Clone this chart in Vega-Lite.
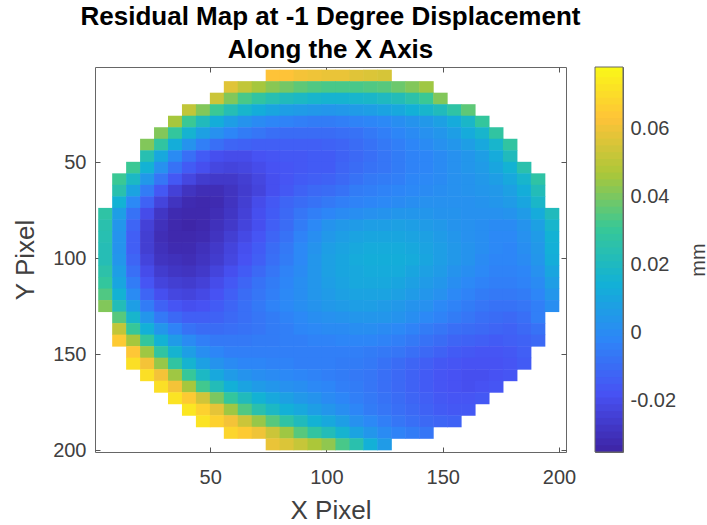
{"$schema":"https://vega.github.io/schema/vega-lite/v6.json","background":"white","padding":{"left":12,"top":3,"right":0,"bottom":0},"spacing":29,"bounds":"flush","config":{"view":{"stroke":"#666666","strokeWidth":1},"font":"Liberation Sans","axis":{"grid":false,"domain":false,"labelFont":"Liberation Sans","titleFont":"Liberation Sans","labelFontSize":20,"titleFontSize":26,"titleFontWeight":"normal","labelColor":"#404040","titleColor":"#404040","tickColor":"#555555"}},"hconcat":[{"width":471,"height":385,"title":{"text":["Residual Map at -1 Degree Displacement","Along the X Axis"],"font":"Liberation Sans","fontSize":26,"fontWeight":"bold","color":"black","lineHeight":33,"anchor":"middle","offset":3.5},"resolve":{"axis":{"x":"independent","y":"independent"}},"layer":[{"data":{"values":[
{"x":77,"y":5,"v":0.062},{"x":83,"y":5,"v":0.062},{"x":89,"y":5,"v":0.06},{"x":95,"y":5,"v":0.059},{"x":101,"y":5,"v":0.058},{"x":107,"y":5,"v":0.058},{"x":113,"y":5,"v":0.056},{"x":119,"y":5,"v":0.055},{"x":125,"y":5,"v":0.054},
{"x":59,"y":11,"v":0.056},{"x":65,"y":11,"v":0.05},{"x":71,"y":11,"v":0.045},{"x":77,"y":11,"v":0.041},{"x":83,"y":11,"v":0.038},{"x":89,"y":11,"v":0.035},{"x":95,"y":11,"v":0.033},{"x":101,"y":11,"v":0.032},{"x":107,"y":11,"v":0.032},{"x":113,"y":11,"v":0.032},{"x":119,"y":11,"v":0.033},{"x":125,"y":11,"v":0.034},{"x":131,"y":11,"v":0.037},{"x":137,"y":11,"v":0.04},{"x":143,"y":11,"v":0.044},
{"x":53,"y":17,"v":0.052},{"x":59,"y":17,"v":0.04},{"x":65,"y":17,"v":0.032},{"x":71,"y":17,"v":0.027},{"x":77,"y":17,"v":0.023},{"x":83,"y":17,"v":0.02},{"x":89,"y":17,"v":0.018},{"x":95,"y":17,"v":0.016},{"x":101,"y":17,"v":0.015},{"x":107,"y":17,"v":0.015},{"x":113,"y":17,"v":0.016},{"x":119,"y":17,"v":0.017},{"x":125,"y":17,"v":0.019},{"x":131,"y":17,"v":0.021},{"x":137,"y":17,"v":0.025},{"x":143,"y":17,"v":0.03},{"x":149,"y":17,"v":0.04},
{"x":41,"y":23,"v":0.05},{"x":47,"y":23,"v":0.04},{"x":53,"y":23,"v":0.03},{"x":59,"y":23,"v":0.022},{"x":65,"y":23,"v":0.016},{"x":71,"y":23,"v":0.012},{"x":77,"y":23,"v":0.009},{"x":83,"y":23,"v":0.006},{"x":89,"y":23,"v":0.005},{"x":95,"y":23,"v":0.004},{"x":101,"y":23,"v":0.003},{"x":107,"y":23,"v":0.004},{"x":113,"y":23,"v":0.005},{"x":119,"y":23,"v":0.006},{"x":125,"y":23,"v":0.008},{"x":131,"y":23,"v":0.01},{"x":137,"y":23,"v":0.013},{"x":143,"y":23,"v":0.016},{"x":149,"y":23,"v":0.02},{"x":155,"y":23,"v":0.026},{"x":161,"y":23,"v":0.035},
{"x":35,"y":29,"v":0.045},{"x":41,"y":29,"v":0.03},{"x":47,"y":29,"v":0.02},{"x":53,"y":29,"v":0.012},{"x":59,"y":29,"v":0.006},{"x":65,"y":29,"v":0.002},{"x":71,"y":29,"v":-0.001},{"x":77,"y":29,"v":-0.003},{"x":83,"y":29,"v":-0.004},{"x":89,"y":29,"v":-0.005},{"x":95,"y":29,"v":-0.006},{"x":101,"y":29,"v":-0.006},{"x":107,"y":29,"v":-0.005},{"x":113,"y":29,"v":-0.004},{"x":119,"y":29,"v":-0.003},{"x":125,"y":29,"v":-0.002},{"x":131,"y":29,"v":0},{"x":137,"y":29,"v":0.002},{"x":143,"y":29,"v":0.004},{"x":149,"y":29,"v":0.007},{"x":155,"y":29,"v":0.011},{"x":161,"y":29,"v":0.017},{"x":167,"y":29,"v":0.028},
{"x":29,"y":35,"v":0.04},{"x":35,"y":35,"v":0.028},{"x":41,"y":35,"v":0.015},{"x":47,"y":35,"v":0.007},{"x":53,"y":35,"v":0.001},{"x":59,"y":35,"v":-0.003},{"x":65,"y":35,"v":-0.006},{"x":71,"y":35,"v":-0.008},{"x":77,"y":35,"v":-0.01},{"x":83,"y":35,"v":-0.011},{"x":89,"y":35,"v":-0.011},{"x":95,"y":35,"v":-0.011},{"x":101,"y":35,"v":-0.011},{"x":107,"y":35,"v":-0.01},{"x":113,"y":35,"v":-0.009},{"x":119,"y":35,"v":-0.007},{"x":125,"y":35,"v":-0.005},{"x":131,"y":35,"v":-0.003},{"x":137,"y":35,"v":-0.001},{"x":143,"y":35,"v":0.001},{"x":149,"y":35,"v":0.003},{"x":155,"y":35,"v":0.006},{"x":161,"y":35,"v":0.011},{"x":167,"y":35,"v":0.016},{"x":173,"y":35,"v":0.027},
{"x":23,"y":41,"v":0.04},{"x":29,"y":41,"v":0.027},{"x":35,"y":41,"v":0.012},{"x":41,"y":41,"v":0.002},{"x":47,"y":41,"v":-0.005},{"x":53,"y":41,"v":-0.01},{"x":59,"y":41,"v":-0.013},{"x":65,"y":41,"v":-0.014},{"x":71,"y":41,"v":-0.015},{"x":77,"y":41,"v":-0.015},{"x":83,"y":41,"v":-0.015},{"x":89,"y":41,"v":-0.015},{"x":95,"y":41,"v":-0.015},{"x":101,"y":41,"v":-0.014},{"x":107,"y":41,"v":-0.013},{"x":113,"y":41,"v":-0.011},{"x":119,"y":41,"v":-0.009},{"x":125,"y":41,"v":-0.007},{"x":131,"y":41,"v":-0.005},{"x":137,"y":41,"v":-0.003},{"x":143,"y":41,"v":-0.001},{"x":149,"y":41,"v":0.001},{"x":155,"y":41,"v":0.003},{"x":161,"y":41,"v":0.006},{"x":167,"y":41,"v":0.01},{"x":173,"y":41,"v":0.016},{"x":179,"y":41,"v":0.027},
{"x":23,"y":47,"v":0.023},{"x":29,"y":47,"v":0.01},{"x":35,"y":47,"v":-0.001},{"x":41,"y":47,"v":-0.01},{"x":47,"y":47,"v":-0.016},{"x":53,"y":47,"v":-0.02},{"x":59,"y":47,"v":-0.021},{"x":65,"y":47,"v":-0.021},{"x":71,"y":47,"v":-0.019},{"x":77,"y":47,"v":-0.018},{"x":83,"y":47,"v":-0.017},{"x":89,"y":47,"v":-0.017},{"x":95,"y":47,"v":-0.016},{"x":101,"y":47,"v":-0.016},{"x":107,"y":47,"v":-0.014},{"x":113,"y":47,"v":-0.012},{"x":119,"y":47,"v":-0.01},{"x":125,"y":47,"v":-0.008},{"x":131,"y":47,"v":-0.006},{"x":137,"y":47,"v":-0.004},{"x":143,"y":47,"v":-0.003},{"x":149,"y":47,"v":-0.001},{"x":155,"y":47,"v":0.001},{"x":161,"y":47,"v":0.003},{"x":167,"y":47,"v":0.006},{"x":173,"y":47,"v":0.011},{"x":179,"y":47,"v":0.02},
{"x":17,"y":53,"v":0.03},{"x":23,"y":53,"v":0.014},{"x":29,"y":53,"v":0.001},{"x":35,"y":53,"v":-0.009},{"x":41,"y":53,"v":-0.016},{"x":47,"y":53,"v":-0.02},{"x":53,"y":53,"v":-0.023},{"x":59,"y":53,"v":-0.024},{"x":65,"y":53,"v":-0.023},{"x":71,"y":53,"v":-0.021},{"x":77,"y":53,"v":-0.019},{"x":83,"y":53,"v":-0.018},{"x":89,"y":53,"v":-0.017},{"x":95,"y":53,"v":-0.016},{"x":101,"y":53,"v":-0.016},{"x":107,"y":53,"v":-0.013},{"x":113,"y":53,"v":-0.011},{"x":119,"y":53,"v":-0.009},{"x":125,"y":53,"v":-0.008},{"x":131,"y":53,"v":-0.006},{"x":137,"y":53,"v":-0.004},{"x":143,"y":53,"v":-0.003},{"x":149,"y":53,"v":-0.001},{"x":155,"y":53,"v":0.001},{"x":161,"y":53,"v":0.003},{"x":167,"y":53,"v":0.005},{"x":173,"y":53,"v":0.009},{"x":179,"y":53,"v":0.014},{"x":185,"y":53,"v":0.024},
{"x":11,"y":59,"v":0.03},{"x":17,"y":59,"v":0.018},{"x":23,"y":59,"v":0.004},{"x":29,"y":59,"v":-0.008},{"x":35,"y":59,"v":-0.017},{"x":41,"y":59,"v":-0.023},{"x":47,"y":59,"v":-0.027},{"x":53,"y":59,"v":-0.028},{"x":59,"y":59,"v":-0.028},{"x":65,"y":59,"v":-0.026},{"x":71,"y":59,"v":-0.023},{"x":77,"y":59,"v":-0.02},{"x":83,"y":59,"v":-0.018},{"x":89,"y":59,"v":-0.016},{"x":95,"y":59,"v":-0.015},{"x":101,"y":59,"v":-0.014},{"x":107,"y":59,"v":-0.012},{"x":113,"y":59,"v":-0.009},{"x":119,"y":59,"v":-0.007},{"x":125,"y":59,"v":-0.006},{"x":131,"y":59,"v":-0.005},{"x":137,"y":59,"v":-0.003},{"x":143,"y":59,"v":-0.002},{"x":149,"y":59,"v":-0.001},{"x":155,"y":59,"v":0.001},{"x":161,"y":59,"v":0.002},{"x":167,"y":59,"v":0.004},{"x":173,"y":59,"v":0.006},{"x":179,"y":59,"v":0.01},{"x":185,"y":59,"v":0.016},{"x":191,"y":59,"v":0.026},
{"x":11,"y":65,"v":0.024},{"x":17,"y":65,"v":0.008},{"x":23,"y":65,"v":-0.006},{"x":29,"y":65,"v":-0.017},{"x":35,"y":65,"v":-0.025},{"x":41,"y":65,"v":-0.03},{"x":47,"y":65,"v":-0.032},{"x":53,"y":65,"v":-0.032},{"x":59,"y":65,"v":-0.03},{"x":65,"y":65,"v":-0.027},{"x":71,"y":65,"v":-0.024},{"x":77,"y":65,"v":-0.02},{"x":83,"y":65,"v":-0.017},{"x":89,"y":65,"v":-0.014},{"x":95,"y":65,"v":-0.012},{"x":101,"y":65,"v":-0.011},{"x":107,"y":65,"v":-0.009},{"x":113,"y":65,"v":-0.006},{"x":119,"y":65,"v":-0.005},{"x":125,"y":65,"v":-0.004},{"x":131,"y":65,"v":-0.003},{"x":137,"y":65,"v":-0.002},{"x":143,"y":65,"v":-0.001},{"x":149,"y":65,"v":0},{"x":155,"y":65,"v":0.001},{"x":161,"y":65,"v":0.002},{"x":167,"y":65,"v":0.003},{"x":173,"y":65,"v":0.004},{"x":179,"y":65,"v":0.007},{"x":185,"y":65,"v":0.012},{"x":191,"y":65,"v":0.021},
{"x":11,"y":71,"v":0.014},{"x":17,"y":71,"v":-0.002},{"x":23,"y":71,"v":-0.014},{"x":29,"y":71,"v":-0.024},{"x":35,"y":71,"v":-0.03},{"x":41,"y":71,"v":-0.033},{"x":47,"y":71,"v":-0.034},{"x":53,"y":71,"v":-0.033},{"x":59,"y":71,"v":-0.03},{"x":65,"y":71,"v":-0.026},{"x":71,"y":71,"v":-0.021},{"x":77,"y":71,"v":-0.017},{"x":83,"y":71,"v":-0.013},{"x":89,"y":71,"v":-0.011},{"x":95,"y":71,"v":-0.009},{"x":101,"y":71,"v":-0.007},{"x":107,"y":71,"v":-0.005},{"x":113,"y":71,"v":-0.004},{"x":119,"y":71,"v":-0.003},{"x":125,"y":71,"v":-0.002},{"x":131,"y":71,"v":-0.001},{"x":137,"y":71,"v":0},{"x":143,"y":71,"v":0.001},{"x":149,"y":71,"v":0.001},{"x":155,"y":71,"v":0.001},{"x":161,"y":71,"v":0.001},{"x":167,"y":71,"v":0.002},{"x":173,"y":71,"v":0.003},{"x":179,"y":71,"v":0.005},{"x":185,"y":71,"v":0.009},{"x":191,"y":71,"v":0.017},
{"x":5,"y":77,"v":0.026},{"x":11,"y":77,"v":0.006},{"x":17,"y":77,"v":-0.009},{"x":23,"y":77,"v":-0.021},{"x":29,"y":77,"v":-0.029},{"x":35,"y":77,"v":-0.033},{"x":41,"y":77,"v":-0.034},{"x":47,"y":77,"v":-0.034},{"x":53,"y":77,"v":-0.032},{"x":59,"y":77,"v":-0.029},{"x":65,"y":77,"v":-0.025},{"x":71,"y":77,"v":-0.02},{"x":77,"y":77,"v":-0.016},{"x":83,"y":77,"v":-0.012},{"x":89,"y":77,"v":-0.008},{"x":95,"y":77,"v":-0.005},{"x":101,"y":77,"v":-0.003},{"x":107,"y":77,"v":-0.001},{"x":113,"y":77,"v":0},{"x":119,"y":77,"v":0.001},{"x":125,"y":77,"v":0.002},{"x":131,"y":77,"v":0.003},{"x":137,"y":77,"v":0.003},{"x":143,"y":77,"v":0.003},{"x":149,"y":77,"v":0.002},{"x":155,"y":77,"v":0.002},{"x":161,"y":77,"v":0.001},{"x":167,"y":77,"v":0.001},{"x":173,"y":77,"v":0.001},{"x":179,"y":77,"v":0.002},{"x":185,"y":77,"v":0.005},{"x":191,"y":77,"v":0.011},{"x":197,"y":77,"v":0.02},
{"x":5,"y":83,"v":0.024},{"x":11,"y":83,"v":0.003},{"x":17,"y":83,"v":-0.013},{"x":23,"y":83,"v":-0.025},{"x":29,"y":83,"v":-0.031},{"x":35,"y":83,"v":-0.034},{"x":41,"y":83,"v":-0.035},{"x":47,"y":83,"v":-0.034},{"x":53,"y":83,"v":-0.031},{"x":59,"y":83,"v":-0.028},{"x":65,"y":83,"v":-0.024},{"x":71,"y":83,"v":-0.02},{"x":77,"y":83,"v":-0.015},{"x":83,"y":83,"v":-0.011},{"x":89,"y":83,"v":-0.006},{"x":95,"y":83,"v":-0.002},{"x":101,"y":83,"v":0.002},{"x":107,"y":83,"v":0.004},{"x":113,"y":83,"v":0.005},{"x":119,"y":83,"v":0.006},{"x":125,"y":83,"v":0.006},{"x":131,"y":83,"v":0.007},{"x":137,"y":83,"v":0.006},{"x":143,"y":83,"v":0.005},{"x":149,"y":83,"v":0.004},{"x":155,"y":83,"v":0.002},{"x":161,"y":83,"v":0.001},{"x":167,"y":83,"v":0},{"x":173,"y":83,"v":-0.001},{"x":179,"y":83,"v":-0.001},{"x":185,"y":83,"v":0.002},{"x":191,"y":83,"v":0.007},{"x":197,"y":83,"v":0.016},
{"x":5,"y":89,"v":0.023},{"x":11,"y":89,"v":0.002},{"x":17,"y":89,"v":-0.015},{"x":23,"y":89,"v":-0.026},{"x":29,"y":89,"v":-0.032},{"x":35,"y":89,"v":-0.034},{"x":41,"y":89,"v":-0.034},{"x":47,"y":89,"v":-0.033},{"x":53,"y":89,"v":-0.03},{"x":59,"y":89,"v":-0.026},{"x":65,"y":89,"v":-0.022},{"x":71,"y":89,"v":-0.018},{"x":77,"y":89,"v":-0.013},{"x":83,"y":89,"v":-0.009},{"x":89,"y":89,"v":-0.004},{"x":95,"y":89,"v":0},{"x":101,"y":89,"v":0.004},{"x":107,"y":89,"v":0.006},{"x":113,"y":89,"v":0.008},{"x":119,"y":89,"v":0.009},{"x":125,"y":89,"v":0.009},{"x":131,"y":89,"v":0.009},{"x":137,"y":89,"v":0.008},{"x":143,"y":89,"v":0.007},{"x":149,"y":89,"v":0.005},{"x":155,"y":89,"v":0.003},{"x":161,"y":89,"v":0.001},{"x":167,"y":89,"v":0},{"x":173,"y":89,"v":-0.002},{"x":179,"y":89,"v":-0.002},{"x":185,"y":89,"v":0.001},{"x":191,"y":89,"v":0.005},{"x":197,"y":89,"v":0.014},
{"x":5,"y":95,"v":0.022},{"x":11,"y":95,"v":0.002},{"x":17,"y":95,"v":-0.015},{"x":23,"y":95,"v":-0.026},{"x":29,"y":95,"v":-0.031},{"x":35,"y":95,"v":-0.033},{"x":41,"y":95,"v":-0.033},{"x":47,"y":95,"v":-0.031},{"x":53,"y":95,"v":-0.028},{"x":59,"y":95,"v":-0.024},{"x":65,"y":95,"v":-0.02},{"x":71,"y":95,"v":-0.016},{"x":77,"y":95,"v":-0.011},{"x":83,"y":95,"v":-0.007},{"x":89,"y":95,"v":-0.002},{"x":95,"y":95,"v":0.002},{"x":101,"y":95,"v":0.006},{"x":107,"y":95,"v":0.008},{"x":113,"y":95,"v":0.01},{"x":119,"y":95,"v":0.011},{"x":125,"y":95,"v":0.011},{"x":131,"y":95,"v":0.011},{"x":137,"y":95,"v":0.01},{"x":143,"y":95,"v":0.008},{"x":149,"y":95,"v":0.006},{"x":155,"y":95,"v":0.004},{"x":161,"y":95,"v":0.002},{"x":167,"y":95,"v":0},{"x":173,"y":95,"v":-0.002},{"x":179,"y":95,"v":-0.003},{"x":185,"y":95,"v":0},{"x":191,"y":95,"v":0.004},{"x":197,"y":95,"v":0.013},
{"x":5,"y":101,"v":0.022},{"x":11,"y":101,"v":0.003},{"x":17,"y":101,"v":-0.013},{"x":23,"y":101,"v":-0.024},{"x":29,"y":101,"v":-0.03},{"x":35,"y":101,"v":-0.031},{"x":41,"y":101,"v":-0.032},{"x":47,"y":101,"v":-0.03},{"x":53,"y":101,"v":-0.027},{"x":59,"y":101,"v":-0.023},{"x":65,"y":101,"v":-0.019},{"x":71,"y":101,"v":-0.015},{"x":77,"y":101,"v":-0.01},{"x":83,"y":101,"v":-0.006},{"x":89,"y":101,"v":-0.002},{"x":95,"y":101,"v":0.003},{"x":101,"y":101,"v":0.007},{"x":107,"y":101,"v":0.009},{"x":113,"y":101,"v":0.011},{"x":119,"y":101,"v":0.012},{"x":125,"y":101,"v":0.012},{"x":131,"y":101,"v":0.012},{"x":137,"y":101,"v":0.011},{"x":143,"y":101,"v":0.009},{"x":149,"y":101,"v":0.006},{"x":155,"y":101,"v":0.004},{"x":161,"y":101,"v":0.002},{"x":167,"y":101,"v":-0.001},{"x":173,"y":101,"v":-0.003},{"x":179,"y":101,"v":-0.003},{"x":185,"y":101,"v":-0.001},{"x":191,"y":101,"v":0.003},{"x":197,"y":101,"v":0.012},
{"x":5,"y":107,"v":0.025},{"x":11,"y":107,"v":0.006},{"x":17,"y":107,"v":-0.01},{"x":23,"y":107,"v":-0.021},{"x":29,"y":107,"v":-0.027},{"x":35,"y":107,"v":-0.029},{"x":41,"y":107,"v":-0.03},{"x":47,"y":107,"v":-0.028},{"x":53,"y":107,"v":-0.024},{"x":59,"y":107,"v":-0.02},{"x":65,"y":107,"v":-0.016},{"x":71,"y":107,"v":-0.012},{"x":77,"y":107,"v":-0.008},{"x":83,"y":107,"v":-0.004},{"x":89,"y":107,"v":-0.001},{"x":95,"y":107,"v":0.003},{"x":101,"y":107,"v":0.007},{"x":107,"y":107,"v":0.009},{"x":113,"y":107,"v":0.01},{"x":119,"y":107,"v":0.011},{"x":125,"y":107,"v":0.011},{"x":131,"y":107,"v":0.011},{"x":137,"y":107,"v":0.009},{"x":143,"y":107,"v":0.007},{"x":149,"y":107,"v":0.005},{"x":155,"y":107,"v":0.002},{"x":161,"y":107,"v":0},{"x":167,"y":107,"v":-0.002},{"x":173,"y":107,"v":-0.004},{"x":179,"y":107,"v":-0.004},{"x":185,"y":107,"v":-0.003},{"x":191,"y":107,"v":0.001},{"x":197,"y":107,"v":0.009},
{"x":5,"y":113,"v":0.028},{"x":11,"y":113,"v":0.009},{"x":17,"y":113,"v":-0.006},{"x":23,"y":113,"v":-0.018},{"x":29,"y":113,"v":-0.024},{"x":35,"y":113,"v":-0.026},{"x":41,"y":113,"v":-0.027},{"x":47,"y":113,"v":-0.025},{"x":53,"y":113,"v":-0.021},{"x":59,"y":113,"v":-0.017},{"x":65,"y":113,"v":-0.013},{"x":71,"y":113,"v":-0.009},{"x":77,"y":113,"v":-0.006},{"x":83,"y":113,"v":-0.003},{"x":89,"y":113,"v":0},{"x":95,"y":113,"v":0.003},{"x":101,"y":113,"v":0.006},{"x":107,"y":113,"v":0.008},{"x":113,"y":113,"v":0.01},{"x":119,"y":113,"v":0.01},{"x":125,"y":113,"v":0.01},{"x":131,"y":113,"v":0.009},{"x":137,"y":113,"v":0.007},{"x":143,"y":113,"v":0.005},{"x":149,"y":113,"v":0.003},{"x":155,"y":113,"v":0},{"x":161,"y":113,"v":-0.002},{"x":167,"y":113,"v":-0.004},{"x":173,"y":113,"v":-0.005},{"x":179,"y":113,"v":-0.005},{"x":185,"y":113,"v":-0.004},{"x":191,"y":113,"v":-0.001},{"x":197,"y":113,"v":0.006},
{"x":5,"y":119,"v":0.033},{"x":11,"y":119,"v":0.014},{"x":17,"y":119,"v":-0.001},{"x":23,"y":119,"v":-0.013},{"x":29,"y":119,"v":-0.02},{"x":35,"y":119,"v":-0.023},{"x":41,"y":119,"v":-0.024},{"x":47,"y":119,"v":-0.022},{"x":53,"y":119,"v":-0.019},{"x":59,"y":119,"v":-0.015},{"x":65,"y":119,"v":-0.011},{"x":71,"y":119,"v":-0.008},{"x":77,"y":119,"v":-0.005},{"x":83,"y":119,"v":-0.002},{"x":89,"y":119,"v":0},{"x":95,"y":119,"v":0.003},{"x":101,"y":119,"v":0.005},{"x":107,"y":119,"v":0.007},{"x":113,"y":119,"v":0.008},{"x":119,"y":119,"v":0.008},{"x":125,"y":119,"v":0.008},{"x":131,"y":119,"v":0.007},{"x":137,"y":119,"v":0.005},{"x":143,"y":119,"v":0.003},{"x":149,"y":119,"v":0.001},{"x":155,"y":119,"v":-0.002},{"x":161,"y":119,"v":-0.004},{"x":167,"y":119,"v":-0.006},{"x":173,"y":119,"v":-0.007},{"x":179,"y":119,"v":-0.007},{"x":185,"y":119,"v":-0.006},{"x":191,"y":119,"v":-0.003},{"x":197,"y":119,"v":0.003},
{"x":5,"y":125,"v":0.04},{"x":11,"y":125,"v":0.021},{"x":17,"y":125,"v":0.006},{"x":23,"y":125,"v":-0.006},{"x":29,"y":125,"v":-0.014},{"x":35,"y":125,"v":-0.018},{"x":41,"y":125,"v":-0.02},{"x":47,"y":125,"v":-0.019},{"x":53,"y":125,"v":-0.016},{"x":59,"y":125,"v":-0.013},{"x":65,"y":125,"v":-0.01},{"x":71,"y":125,"v":-0.007},{"x":77,"y":125,"v":-0.004},{"x":83,"y":125,"v":-0.002},{"x":89,"y":125,"v":0},{"x":95,"y":125,"v":0.002},{"x":101,"y":125,"v":0.004},{"x":107,"y":125,"v":0.005},{"x":113,"y":125,"v":0.006},{"x":119,"y":125,"v":0.006},{"x":125,"y":125,"v":0.005},{"x":131,"y":125,"v":0.004},{"x":137,"y":125,"v":0.002},{"x":143,"y":125,"v":0.001},{"x":149,"y":125,"v":-0.002},{"x":155,"y":125,"v":-0.004},{"x":161,"y":125,"v":-0.006},{"x":167,"y":125,"v":-0.008},{"x":173,"y":125,"v":-0.009},{"x":179,"y":125,"v":-0.009},{"x":185,"y":125,"v":-0.008},{"x":191,"y":125,"v":-0.005},{"x":197,"y":125,"v":0},
{"x":11,"y":131,"v":0.034},{"x":17,"y":131,"v":0.016},{"x":23,"y":131,"v":0.003},{"x":29,"y":131,"v":-0.007},{"x":35,"y":131,"v":-0.012},{"x":41,"y":131,"v":-0.015},{"x":47,"y":131,"v":-0.015},{"x":53,"y":131,"v":-0.014},{"x":59,"y":131,"v":-0.012},{"x":65,"y":131,"v":-0.01},{"x":71,"y":131,"v":-0.008},{"x":77,"y":131,"v":-0.006},{"x":83,"y":131,"v":-0.004},{"x":89,"y":131,"v":-0.002},{"x":95,"y":131,"v":0},{"x":101,"y":131,"v":0.001},{"x":107,"y":131,"v":0.002},{"x":113,"y":131,"v":0.003},{"x":119,"y":131,"v":0.003},{"x":125,"y":131,"v":0.003},{"x":131,"y":131,"v":0.002},{"x":137,"y":131,"v":0},{"x":143,"y":131,"v":-0.002},{"x":149,"y":131,"v":-0.004},{"x":155,"y":131,"v":-0.006},{"x":161,"y":131,"v":-0.008},{"x":167,"y":131,"v":-0.01},{"x":173,"y":131,"v":-0.011},{"x":179,"y":131,"v":-0.012},{"x":185,"y":131,"v":-0.01},{"x":191,"y":131,"v":-0.005},
{"x":11,"y":137,"v":0.05},{"x":17,"y":137,"v":0.029},{"x":23,"y":137,"v":0.013},{"x":29,"y":137,"v":0.003},{"x":35,"y":137,"v":-0.004},{"x":41,"y":137,"v":-0.009},{"x":47,"y":137,"v":-0.011},{"x":53,"y":137,"v":-0.011},{"x":59,"y":137,"v":-0.01},{"x":65,"y":137,"v":-0.009},{"x":71,"y":137,"v":-0.008},{"x":77,"y":137,"v":-0.006},{"x":83,"y":137,"v":-0.005},{"x":89,"y":137,"v":-0.003},{"x":95,"y":137,"v":-0.002},{"x":101,"y":137,"v":-0.001},{"x":107,"y":137,"v":-0.001},{"x":113,"y":137,"v":0},{"x":119,"y":137,"v":0},{"x":125,"y":137,"v":-0.001},{"x":131,"y":137,"v":-0.002},{"x":137,"y":137,"v":-0.004},{"x":143,"y":137,"v":-0.006},{"x":149,"y":137,"v":-0.008},{"x":155,"y":137,"v":-0.01},{"x":161,"y":137,"v":-0.011},{"x":167,"y":137,"v":-0.012},{"x":173,"y":137,"v":-0.013},{"x":179,"y":137,"v":-0.014},{"x":185,"y":137,"v":-0.012},{"x":191,"y":137,"v":-0.009},
{"x":11,"y":143,"v":0.064},{"x":17,"y":143,"v":0.045},{"x":23,"y":143,"v":0.028},{"x":29,"y":143,"v":0.014},{"x":35,"y":143,"v":0.005},{"x":41,"y":143,"v":-0.001},{"x":47,"y":143,"v":-0.005},{"x":53,"y":143,"v":-0.007},{"x":59,"y":143,"v":-0.007},{"x":65,"y":143,"v":-0.007},{"x":71,"y":143,"v":-0.006},{"x":77,"y":143,"v":-0.006},{"x":83,"y":143,"v":-0.005},{"x":89,"y":143,"v":-0.005},{"x":95,"y":143,"v":-0.004},{"x":101,"y":143,"v":-0.004},{"x":107,"y":143,"v":-0.003},{"x":113,"y":143,"v":-0.003},{"x":119,"y":143,"v":-0.003},{"x":125,"y":143,"v":-0.004},{"x":131,"y":143,"v":-0.005},{"x":137,"y":143,"v":-0.007},{"x":143,"y":143,"v":-0.009},{"x":149,"y":143,"v":-0.011},{"x":155,"y":143,"v":-0.013},{"x":161,"y":143,"v":-0.014},{"x":167,"y":143,"v":-0.015},{"x":173,"y":143,"v":-0.016},{"x":179,"y":143,"v":-0.015},{"x":185,"y":143,"v":-0.014},{"x":191,"y":143,"v":-0.012},
{"x":17,"y":149,"v":0.063},{"x":23,"y":149,"v":0.044},{"x":29,"y":149,"v":0.027},{"x":35,"y":149,"v":0.015},{"x":41,"y":149,"v":0.006},{"x":47,"y":149,"v":0},{"x":53,"y":149,"v":-0.003},{"x":59,"y":149,"v":-0.005},{"x":65,"y":149,"v":-0.005},{"x":71,"y":149,"v":-0.005},{"x":77,"y":149,"v":-0.005},{"x":83,"y":149,"v":-0.005},{"x":89,"y":149,"v":-0.005},{"x":95,"y":149,"v":-0.005},{"x":101,"y":149,"v":-0.005},{"x":107,"y":149,"v":-0.005},{"x":113,"y":149,"v":-0.005},{"x":119,"y":149,"v":-0.006},{"x":125,"y":149,"v":-0.007},{"x":131,"y":149,"v":-0.008},{"x":137,"y":149,"v":-0.01},{"x":143,"y":149,"v":-0.012},{"x":149,"y":149,"v":-0.014},{"x":155,"y":149,"v":-0.016},{"x":161,"y":149,"v":-0.017},{"x":167,"y":149,"v":-0.018},{"x":173,"y":149,"v":-0.018},{"x":179,"y":149,"v":-0.017},{"x":185,"y":149,"v":-0.015},
{"x":17,"y":155,"v":0.07},{"x":23,"y":155,"v":0.06},{"x":29,"y":155,"v":0.043},{"x":35,"y":155,"v":0.027},{"x":41,"y":155,"v":0.015},{"x":47,"y":155,"v":0.007},{"x":53,"y":155,"v":0.002},{"x":59,"y":155,"v":-0.001},{"x":65,"y":155,"v":-0.003},{"x":71,"y":155,"v":-0.003},{"x":77,"y":155,"v":-0.004},{"x":83,"y":155,"v":-0.004},{"x":89,"y":155,"v":-0.005},{"x":95,"y":155,"v":-0.005},{"x":101,"y":155,"v":-0.005},{"x":107,"y":155,"v":-0.006},{"x":113,"y":155,"v":-0.006},{"x":119,"y":155,"v":-0.007},{"x":125,"y":155,"v":-0.009},{"x":131,"y":155,"v":-0.011},{"x":137,"y":155,"v":-0.013},{"x":143,"y":155,"v":-0.015},{"x":149,"y":155,"v":-0.017},{"x":155,"y":155,"v":-0.018},{"x":161,"y":155,"v":-0.019},{"x":167,"y":155,"v":-0.019},{"x":173,"y":155,"v":-0.019},{"x":179,"y":155,"v":-0.018},{"x":185,"y":155,"v":-0.016},
{"x":23,"y":161,"v":0.07},{"x":29,"y":161,"v":0.06},{"x":35,"y":161,"v":0.044},{"x":41,"y":161,"v":0.029},{"x":47,"y":161,"v":0.018},{"x":53,"y":161,"v":0.01},{"x":59,"y":161,"v":0.005},{"x":65,"y":161,"v":0.002},{"x":71,"y":161,"v":0},{"x":77,"y":161,"v":-0.001},{"x":83,"y":161,"v":-0.002},{"x":89,"y":161,"v":-0.003},{"x":95,"y":161,"v":-0.004},{"x":101,"y":161,"v":-0.005},{"x":107,"y":161,"v":-0.006},{"x":113,"y":161,"v":-0.007},{"x":119,"y":161,"v":-0.008},{"x":125,"y":161,"v":-0.01},{"x":131,"y":161,"v":-0.012},{"x":137,"y":161,"v":-0.014},{"x":143,"y":161,"v":-0.016},{"x":149,"y":161,"v":-0.018},{"x":155,"y":161,"v":-0.019},{"x":161,"y":161,"v":-0.02},{"x":167,"y":161,"v":-0.02},{"x":173,"y":161,"v":-0.019},{"x":179,"y":161,"v":-0.018},
{"x":29,"y":167,"v":0.07},{"x":35,"y":167,"v":0.06},{"x":41,"y":167,"v":0.045},{"x":47,"y":167,"v":0.031},{"x":53,"y":167,"v":0.021},{"x":59,"y":167,"v":0.013},{"x":65,"y":167,"v":0.008},{"x":71,"y":167,"v":0.005},{"x":77,"y":167,"v":0.003},{"x":83,"y":167,"v":0.001},{"x":89,"y":167,"v":0},{"x":95,"y":167,"v":-0.002},{"x":101,"y":167,"v":-0.003},{"x":107,"y":167,"v":-0.005},{"x":113,"y":167,"v":-0.006},{"x":119,"y":167,"v":-0.008},{"x":125,"y":167,"v":-0.01},{"x":131,"y":167,"v":-0.012},{"x":137,"y":167,"v":-0.014},{"x":143,"y":167,"v":-0.016},{"x":149,"y":167,"v":-0.018},{"x":155,"y":167,"v":-0.019},{"x":161,"y":167,"v":-0.02},{"x":167,"y":167,"v":-0.019},{"x":173,"y":167,"v":-0.018},
{"x":35,"y":173,"v":0.071},{"x":41,"y":173,"v":0.064},{"x":47,"y":173,"v":0.053},{"x":53,"y":173,"v":0.039},{"x":59,"y":173,"v":0.028},{"x":65,"y":173,"v":0.02},{"x":71,"y":173,"v":0.014},{"x":77,"y":173,"v":0.01},{"x":83,"y":173,"v":0.007},{"x":89,"y":173,"v":0.004},{"x":95,"y":173,"v":0.002},{"x":101,"y":173,"v":-0.001},{"x":107,"y":173,"v":-0.003},{"x":113,"y":173,"v":-0.005},{"x":119,"y":173,"v":-0.007},{"x":125,"y":173,"v":-0.009},{"x":131,"y":173,"v":-0.011},{"x":137,"y":173,"v":-0.013},{"x":143,"y":173,"v":-0.015},{"x":149,"y":173,"v":-0.017},{"x":155,"y":173,"v":-0.018},{"x":161,"y":173,"v":-0.018},{"x":167,"y":173,"v":-0.017},
{"x":41,"y":179,"v":0.072},{"x":47,"y":179,"v":0.066},{"x":53,"y":179,"v":0.057},{"x":59,"y":179,"v":0.044},{"x":65,"y":179,"v":0.033},{"x":71,"y":179,"v":0.024},{"x":77,"y":179,"v":0.018},{"x":83,"y":179,"v":0.013},{"x":89,"y":179,"v":0.01},{"x":95,"y":179,"v":0.006},{"x":101,"y":179,"v":0.003},{"x":107,"y":179,"v":0},{"x":113,"y":179,"v":-0.003},{"x":119,"y":179,"v":-0.006},{"x":125,"y":179,"v":-0.008},{"x":131,"y":179,"v":-0.01},{"x":137,"y":179,"v":-0.012},{"x":143,"y":179,"v":-0.014},{"x":149,"y":179,"v":-0.016},{"x":155,"y":179,"v":-0.017},{"x":161,"y":179,"v":-0.017},
{"x":47,"y":185,"v":0.071},{"x":53,"y":185,"v":0.066},{"x":59,"y":185,"v":0.06},{"x":65,"y":185,"v":0.052},{"x":71,"y":185,"v":0.043},{"x":77,"y":185,"v":0.034},{"x":83,"y":185,"v":0.026},{"x":89,"y":185,"v":0.02},{"x":95,"y":185,"v":0.014},{"x":101,"y":185,"v":0.01},{"x":107,"y":185,"v":0.006},{"x":113,"y":185,"v":0.001},{"x":119,"y":185,"v":-0.002},{"x":125,"y":185,"v":-0.005},{"x":131,"y":185,"v":-0.008},{"x":137,"y":185,"v":-0.01},{"x":143,"y":185,"v":-0.012},{"x":149,"y":185,"v":-0.013},{"x":155,"y":185,"v":-0.014},
{"x":59,"y":191,"v":0.067},{"x":65,"y":191,"v":0.064},{"x":71,"y":191,"v":0.059},{"x":77,"y":191,"v":0.052},{"x":83,"y":191,"v":0.044},{"x":89,"y":191,"v":0.034},{"x":95,"y":191,"v":0.027},{"x":101,"y":191,"v":0.021},{"x":107,"y":191,"v":0.015},{"x":113,"y":191,"v":0.008},{"x":119,"y":191,"v":0.003},{"x":125,"y":191,"v":-0.001},{"x":131,"y":191,"v":-0.004},{"x":137,"y":191,"v":-0.006},{"x":143,"y":191,"v":-0.008},
{"x":77,"y":197,"v":0.058},{"x":83,"y":197,"v":0.055},{"x":89,"y":197,"v":0.051},{"x":95,"y":197,"v":0.046},{"x":101,"y":197,"v":0.042},{"x":107,"y":197,"v":0.032},{"x":113,"y":197,"v":0.024},{"x":119,"y":197,"v":0.013},{"x":125,"y":197,"v":0.005}
]},"mark":{"type":"rect","width":14.5,"height":12},"encoding":{"x":{"field":"x","type":"quantitative","scale":{"domain":[0.5,203],"nice":false,"zero":false},"axis":{"values":[50,100,150,200],"title":"X Pixel","tickSize":-5,"labelPadding":20,"titlePadding":10}},"y":{"field":"y","type":"quantitative","scale":{"domain":[0.5,201],"nice":false,"zero":false,"reverse":true},"axis":{"values":[50,100,150,200],"title":"Y Pixel","tickSize":-5,"labelPadding":14,"titlePadding":14}},"color":{"field":"v","type":"quantitative","legend":null,"scale":{"domain":[-0.035,0.078],"interpolate":"rgb","range":["#3E26A8","#4752F4","#2D87F7","#12B1D6","#37C897","#ABC739","#FEC338","#F9FB15"]}}}},{"data":{"values":[{"x":50,"y":50}]},"mark":{"type":"point","opacity":0},"encoding":{"x":{"field":"x","type":"quantitative","scale":{"domain":[0.5,203],"nice":false,"zero":false},"axis":{"orient":"top","values":[50,100,150,200],"labels":false,"title":null,"tickSize":-5}},"y":{"field":"y","type":"quantitative","scale":{"domain":[0.5,201],"nice":false,"zero":false,"reverse":true},"axis":{"orient":"right","values":[50,100,150,200],"labels":false,"title":null,"tickSize":-5}}}}]},{"width":28,"height":385,"layer":[{"data":{"values":[{"v":-0.035,"w":-0.0325},{"v":-0.033,"w":-0.0305},{"v":-0.031,"w":-0.0285},{"v":-0.029,"w":-0.0265},{"v":-0.027,"w":-0.0245},{"v":-0.025,"w":-0.0225},{"v":-0.023,"w":-0.0205},{"v":-0.021,"w":-0.0185},{"v":-0.019,"w":-0.0165},{"v":-0.017,"w":-0.0145},{"v":-0.015,"w":-0.0125},{"v":-0.013,"w":-0.0105},{"v":-0.011,"w":-0.0085},{"v":-0.009,"w":-0.0065},{"v":-0.007,"w":-0.0045},{"v":-0.005,"w":-0.0025},{"v":-0.003,"w":-0.0005},{"v":-0.001,"w":0.0015},{"v":0.001,"w":0.0035},{"v":0.003,"w":0.0055},{"v":0.005,"w":0.0075},{"v":0.007,"w":0.0095},{"v":0.009,"w":0.0115},{"v":0.011,"w":0.0135},{"v":0.013,"w":0.0155},{"v":0.015,"w":0.0175},{"v":0.017,"w":0.0195},{"v":0.019,"w":0.0215},{"v":0.021,"w":0.0235},{"v":0.023,"w":0.0255},{"v":0.025,"w":0.0275},{"v":0.027,"w":0.0295},{"v":0.029,"w":0.0315},{"v":0.031,"w":0.0335},{"v":0.033,"w":0.0355},{"v":0.035,"w":0.0375},{"v":0.037,"w":0.0395},{"v":0.039,"w":0.0415},{"v":0.041,"w":0.0435},{"v":0.043,"w":0.0455},{"v":0.045,"w":0.0475},{"v":0.047,"w":0.0495},{"v":0.049,"w":0.0515},{"v":0.051,"w":0.0535},{"v":0.053,"w":0.0555},{"v":0.055,"w":0.0575},{"v":0.057,"w":0.0595},{"v":0.059,"w":0.0615},{"v":0.061,"w":0.0635},{"v":0.063,"w":0.0655},{"v":0.065,"w":0.0675},{"v":0.067,"w":0.0695},{"v":0.069,"w":0.0715},{"v":0.071,"w":0.0735},{"v":0.073,"w":0.0755},{"v":0.075,"w":0.0775},{"v":0.077,"w":0.078}]},"mark":{"type":"rect"},"encoding":{"y":{"field":"v","type":"quantitative","scale":{"domain":[-0.035,0.078],"nice":false,"zero":false},"axis":{"orient":"right","values":[-0.02,0,0.02,0.04,0.06],"labelExpr":"''+datum.value","title":"mm","titleFontSize":20,"titleAngle":270,"tickSize":-5,"labelPadding":12,"titlePadding":33}},"y2":{"field":"w"},"color":{"field":"v","type":"quantitative","legend":null,"scale":{"domain":[-0.035,0.078],"interpolate":"rgb","range":["#3E26A8","#4752F4","#2D87F7","#12B1D6","#37C897","#ABC739","#FEC338","#F9FB15"]}}}},{"data":{"values":[{"v":-0.035,"w":0.078}]},"mark":{"type":"rect","fillOpacity":0,"stroke":"#666666","strokeWidth":1},"encoding":{"y":{"field":"v","type":"quantitative"},"y2":{"field":"w"}}}]}]}
